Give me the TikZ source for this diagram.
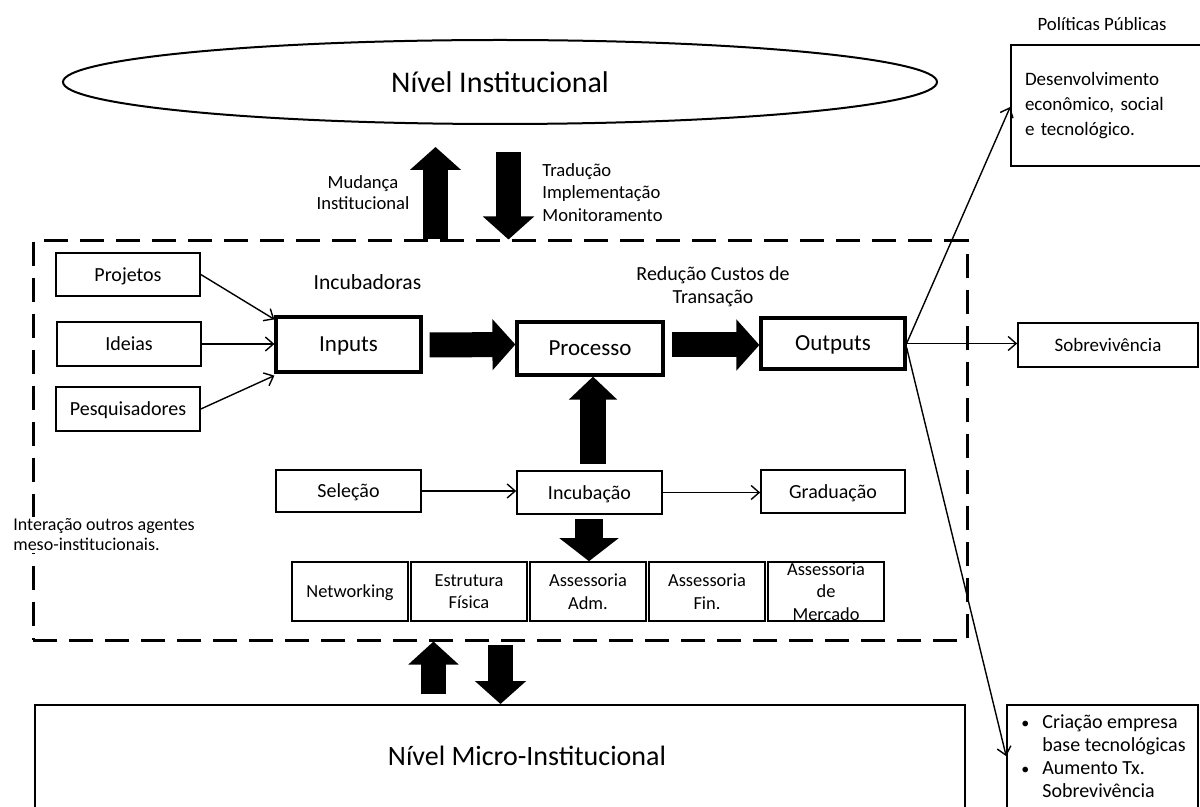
\documentclass[tikz,border=0pt]{standalone}
\usepackage{fontspec}
\setmainfont{Carlito}
\usetikzlibrary{arrows.meta,shapes.geometric,calc}
\newcommand\fsz[2]{\fontsize{#1}{#2}\selectfont}

\begin{document}
\begin{tikzpicture}[x=0.5pt,y=-0.5pt,
  plainbox/.style={draw,line width=0.8pt,inner sep=0pt,align=center,font=\fsz{10pt}{12pt}},
  box/.style={plainbox,text depth=0pt},
  mainbox/.style={draw,line width=1.6pt,inner sep=0pt,align=center,text depth=0pt,font=\fsz{11.5pt}{14pt}},
  svc/.style={box,minimum width=58pt,minimum height=29.5pt,font=\fsz{9.2pt}{11.2pt}},
  fat/.style={line width=12.5pt,-{Triangle[length=11.5pt,width=25pt]}},
  thin/.style={line width=0.7pt,-{Straight Barb[length=4pt,width=7pt]}},
  lbl/.style={inner sep=0pt,align=center}]
\clip (0,0) rectangle (1200,807);

% institutional level
\node[draw,ellipse,line width=1pt,minimum width=437pt,minimum height=42pt,inner sep=0pt,
      font=\fsz{15pt}{18pt}] (inst) at (500,82) {Nível Institucional};

% meso level frame
\node[draw,line width=1.5pt,dash pattern=on 12pt off 6pt,minimum width=467pt,
      minimum height=199.5pt,inner sep=0pt] (meso) at (500,440.5) {};

% micro level
\node[draw,line width=1pt,minimum width=465pt,minimum height=70pt,inner sep=0pt] (micro) at (500,775) {};
\node[lbl,font=\fsz{14pt}{17pt}] (microlbl) at (527,756) {Nível Micro-Institucional};

% inputs
\node[box,minimum width=72pt,minimum height=21.5pt] (proj) at (128,274.5) {Projetos};
\node[box,minimum width=72pt,minimum height=22pt] (ideias) at (129,344) {Ideias};
\node[box,minimum width=72pt,minimum height=22pt] (pesq) at (128,409) {Pesquisadores};

\node[mainbox,minimum width=72.5pt,minimum height=27.5pt] (inputs) at (348.5,344.5) {Inputs};
\node[mainbox,minimum width=73pt,minimum height=26.5pt] (processo) at (590,348.5) {Processo};
\node[mainbox,minimum width=72pt,minimum height=25.5pt] (outputs) at (833,343.5) {Outputs};

\node[box,minimum width=72.5pt,minimum height=21pt] (selecao) at (348.5,491) {Seleção};
\node[box,minimum width=72.5pt,minimum height=21.5pt] (incub) at (589.5,492.5) {Incubação};
\node[box,minimum width=72pt,minimum height=21.5pt] (grad) at (833,491.5) {Graduação};

% support services
\node[svc] (netw) at (350,591.5) {Networking};
\node[svc] (estr) at (469,591.5) {Estrutura\\Física};
\node[svc] (adm) at (588,591.5) {Assessoria\\Adm.};
\node[svc] (fin) at (707,591.5) {Assessoria\\Fin.};
\node[svc] (merc) at (826,591.5) {Assessoria\\de\\Mercado};

% results
\node[lbl,font=\fsz{9.4pt}{11pt}] (polt) at (1102,24) {Políticas Públicas};
\node[plainbox,minimum width=90pt,minimum height=60.5pt,inner xsep=7pt,text width=83pt,align=left,
      font=\fsz{9.5pt}{12.5pt}] (pol) at (1108,105.5) {Desenvolvimento\\econômico, social\\e tecnológico.};
\node[box,minimum width=90pt,minimum height=22pt,font=\fsz{9.5pt}{11.5pt}] (sobrev) at (1108,345) {Sobrevivência};
\node[draw,line width=0.8pt,minimum width=95.5pt,minimum height=70pt,inner sep=0pt] (res) at (1102.5,775) {};
\node[inner sep=0pt,anchor=north west,align=left,font=\fsz{10pt}{11.5pt}] (reslbl) at (1021,714)
  {\makebox[10.5pt][l]{\fsz{8pt}{11.5pt}•}Criação empresa\\\makebox[10.5pt][l]{}base tecnológicas\\
   \makebox[10.5pt][l]{\fsz{8pt}{11.5pt}•}Aumento Tx.\\\makebox[10.5pt][l]{}Sobrevivência};

% free labels
\node[lbl,font=\fsz{9.3pt}{10.8pt}] (mud) at (363,192.5) {Mudança\\Institucional};
\node[lbl,anchor=west,align=left,font=\fsz{9.3pt}{11.2pt}] (trad) at (542,192.5)
  {Tradução\\Implementação\\Monitoramento};
\node[lbl,font=\fsz{10.8pt}{13pt}] (incubadoras) at (367.5,282) {Incubadoras};
\node[lbl,font=\fsz{10pt}{11.5pt}] (reduc) at (713,286.5) {Redução Custos de\\Transação};
\node[lbl,anchor=west,align=left,fill=white,inner sep=1pt,font=\fsz{9pt}{10pt}] (inter) at (11,535)
  {Interação outros agentes\\meso-institucionais.};

% vertical exchange with the institutional level
\coordinate (upx) at (435.5,147);
\coordinate (dnx) at (508.5,152);
\draw[fat] (upx |- meso.north) -- (upx);
\draw[fat] (dnx) -- (dnx |- meso.north);

% main flow
\draw[fat] ($(inputs.east)+(7,0.5)$) -- (inputs.east -| processo.west);
\draw[fat] ($(processo.east |- outputs.west)+(7,1.5)$) -- ($(outputs.west)+(0,1.5)$);
\coordinate (incx) at (593,0);
\coordinate (admx) at (589,0);
\draw[fat,line width=13pt,-{Triangle[length=11.5pt,width=23.5pt]}]
  ($(incx |- incub.north)+(0,-6)$) -- (incx |- processo.south);
\draw[fat,line width=14pt,-{Triangle[length=11.5pt,width=29pt]}]
  ($(admx |- incub.south)+(0,4)$) -- (admx |- adm.north);

% vertical exchange with the micro level
\coordinate (bupx) at (433.5,0);
\coordinate (bdnx) at (500.5,0);
\draw[fat,-{Triangle[length=11.5pt,width=24.5pt]}] ($(bupx |- micro.north)+(0,-10)$) -- (bupx |- meso.south);
\draw[fat,-{Triangle[length=11.5pt,width=25pt]}] ($(bdnx |- meso.south)+(0,3)$) -- (bdnx |- micro.north);

% thin connectors
\draw[thin] (proj.east) -- ($(inputs.north west)+(0,4)$);
\draw[thin] (ideias.east) -- (ideias.east -| inputs.west);
\draw[thin] (pesq.east) -- ($(inputs.south west)+(0,2)$);
\draw[thin] (selecao.east) -- (selecao.east -| incub.west);
\draw[thin] (incub.east) -- (incub.east -| grad.west);
\draw[thin] (outputs.east) -- ($(pol.west)+(0,1.5)$);
\draw[thin] (outputs.east) -- (outputs.east -| sobrev.west);
\draw[thin] ($(outputs.east)+(0,4)$) -- ($(res.north west)+(0,52)$);
\end{tikzpicture}
\end{document}
